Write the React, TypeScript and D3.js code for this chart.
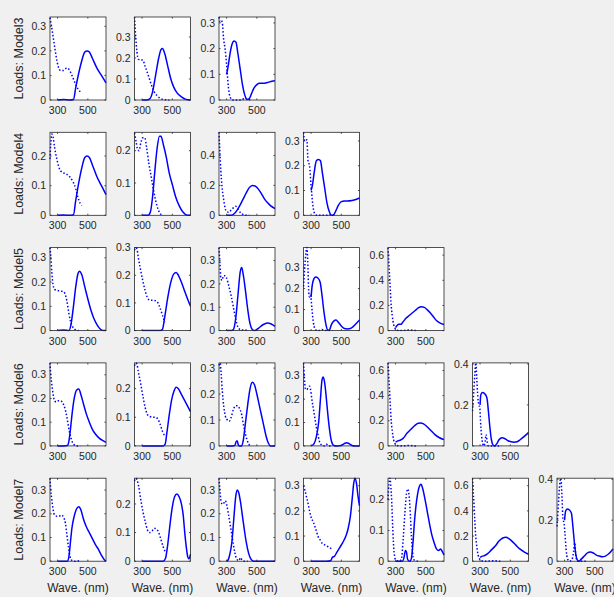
import React from 'react';
import * as d3 from 'd3';

type Pt = [number, number];

const rowLabels = ['Loads: Model3', 'Loads: Model4', 'Loads: Model5', 'Loads: Model6', 'Loads: Model7'];
const xTicks = [300, 500];
const waveRange: [number, number] = [250, 620];
const xLabel = 'Wave. (nm)';

// top of y axis for each panel (axis tight on data)
const yTops = [
  [0.338, 0.395, 0.323],
  [0.28, 0.257, 0.555, 0.335],
  [0.342, 0.3, 0.355, 0.395, 0.66],
  [0.35, 0.29, 0.32, 0.355, 0.66, 0.405],
  [0.35, 0.29, 0.35, 0.33, 0.27, 0.66, 0.405],
];
const yTickSteps = [
  [0.1, 0.1, 0.1],
  [0.1, 0.1, 0.2, 0.1],
  [0.1, 0.1, 0.1, 0.1, 0.2],
  [0.1, 0.1, 0.1, 0.1, 0.2, 0.2],
  [0.1, 0.1, 0.1, 0.1, 0.1, 0.2, 0.2],
];

// emission loadings (solid) and excitation loadings (dotted), [nm, value]
const model3Solid: Pt[][] = [
  [[300,0],[340,0.002],[380,0],[405,0.002],[420,0.05],[440,0.11],[460,0.16],[480,0.195],[495,0.2],[510,0.195],[530,0.17],[560,0.13],[590,0.1],[620,0.07]],
  [[300,0],[330,0],[350,0.005],[370,0.04],[390,0.12],[410,0.2],[425,0.24],[435,0.245],[450,0.22],[470,0.16],[490,0.1],[510,0.06],[530,0.035],[560,0.015],[590,0.003],[620,0]],
  [[300,0.1],[310,0.13],[320,0.17],[335,0.215],[350,0.23],[362,0.225],[375,0.18],[390,0.12],[405,0.06],[420,0.02],[435,0.002],[450,0.005],[465,0.025],[480,0.045],[500,0.06],[520,0.065],[540,0.065],[570,0.068],[600,0.073],[620,0.075]],
];
const model3Dotted: Pt[][] = [
  [[250,0.335],[260,0.3],[275,0.24],[290,0.18],[305,0.135],[320,0.12],[340,0.12],[360,0.13],[375,0.125],[395,0.1],[415,0.07],[435,0.045],[455,0.03]],
  [[250,0.395],[258,0.3],[266,0.23],[275,0.195],[290,0.19],[305,0.19],[320,0.16],[340,0.12],[360,0.075],[380,0.04],[400,0.02],[420,0.008],[445,0.002],[480,0]],
  [[250,0.323],[258,0.305],[265,0.31],[272,0.3],[280,0.24],[290,0.2],[300,0.14],[312,0.05],[325,0.01],[340,0],[400,0],[420,0.008],[440,0.003],[460,0]],
];

const model4Solid: Pt[][] = [
  [[300,0],[340,0.001],[380,0],[405,0.002],[420,0.05],[440,0.11],[460,0.16],[480,0.195],[495,0.2],[510,0.195],[530,0.17],[560,0.13],[590,0.1],[620,0.07]],
  [[300,0],[340,0],[355,0.01],[370,0.06],[385,0.14],[400,0.21],[415,0.245],[425,0.245],[440,0.22],[460,0.18],[480,0.13],[500,0.095],[520,0.06],[545,0.03],[570,0.01],[600,0],[620,0]],
  [[300,0],[330,0],[350,0.01],[370,0.035],[390,0.07],[410,0.11],[430,0.15],[450,0.185],[470,0.2],[490,0.195],[510,0.175],[530,0.145],[550,0.11],[570,0.085],[590,0.065],[620,0.045]],
  [[300,0.1],[310,0.125],[320,0.17],[335,0.22],[350,0.225],[362,0.22],[375,0.17],[390,0.11],[405,0.05],[420,0.015],[435,0],[450,0.003],[465,0.02],[480,0.04],[500,0.055],[520,0.058],[540,0.058],[570,0.06],[600,0.065],[620,0.07]],
];
const model4Dotted: Pt[][] = [
  [[250,0.19],[255,0.24],[262,0.274],[270,0.265],[280,0.23],[295,0.19],[310,0.16],[330,0.145],[355,0.14],[380,0.13],[400,0.115],[420,0.09],[435,0.06],[450,0.04],[460,0.033]],
  [[250,0.255],[260,0.23],[270,0.205],[280,0.2],[292,0.225],[305,0.24],[318,0.24],[330,0.21],[345,0.16],[360,0.12],[375,0.08],[390,0.045],[405,0.02],[420,0.005],[440,0]],
  [[250,0.555],[256,0.42],[262,0.3],[270,0.19],[280,0.11],[290,0.05],[300,0.025],[315,0.02],[330,0.035],[345,0.05],[360,0.06],[375,0.045],[390,0.02],[410,0.005],[430,0],[450,0]],
  [[250,0.335],[258,0.3],[265,0.3],[272,0.305],[280,0.22],[290,0.2],[300,0.12],[312,0.04],[325,0.005],[340,0],[400,0],[420,0.003],[460,0]],
];

const model5Solid: Pt[][] = [
  [[300,0],[340,0.002],[375,0],[390,0.03],[405,0.1],[420,0.18],[435,0.235],[445,0.245],[460,0.23],[480,0.18],[500,0.13],[520,0.085],[540,0.05],[560,0.025],[580,0.008],[600,0],[620,0]],
  [[300,0],[340,0],[380,0],[420,0],[435,0.005],[450,0.05],[470,0.12],[490,0.175],[510,0.205],[525,0.21],[540,0.2],[560,0.175],[580,0.145],[600,0.115],[620,0.088]],
  [[300,0],[330,0],[345,0.005],[360,0.05],[375,0.15],[390,0.25],[400,0.27],[410,0.24],[425,0.17],[440,0.09],[455,0.03],[470,0.005],[485,0],[510,0.01],[540,0.025],[570,0.032],[595,0.028],[620,0.018]],
  [[300,0.16],[305,0.2],[315,0.24],[330,0.255],[345,0.25],[360,0.23],[372,0.17],[385,0.09],[398,0.03],[410,0.003],[420,0.002],[435,0.03],[450,0.045],[465,0.05],[480,0.04],[500,0.022],[520,0.01],[540,0.008],[560,0.01],[580,0.02],[600,0.035],[620,0.05]],
  [[300,0.025],[310,0.04],[320,0.05],[335,0.05],[350,0.07],[370,0.1],[390,0.12],[410,0.14],[430,0.16],[450,0.18],[470,0.19],[490,0.185],[510,0.165],[530,0.14],[550,0.11],[570,0.08],[595,0.06],[620,0.048]],
];
const model5Dotted: Pt[][] = [
  [[250,0.342],[256,0.3],[262,0.24],[270,0.19],[280,0.17],[300,0.165],[320,0.163],[340,0.16],[355,0.14],[365,0.11],[375,0.07],[385,0.04],[400,0.015],[420,0.003],[440,0]],
  [[250,0.29],[258,0.3],[266,0.295],[275,0.265],[290,0.22],[305,0.18],[320,0.145],[335,0.12],[350,0.11],[370,0.11],[390,0.108],[405,0.1],[420,0.08],[435,0.055],[450,0.03]],
  [[250,0.355],[256,0.29],[262,0.225],[270,0.215],[280,0.235],[290,0.235],[300,0.225],[315,0.19],[330,0.15],[345,0.1],[360,0.05],[375,0.015],[395,0.003],[420,0.003],[440,0]],
  [[250,0.21],[258,0.3],[266,0.37],[272,0.395],[278,0.33],[285,0.18],[290,0.16],[297,0.17],[305,0.11],[315,0.04],[325,0.01],[340,0],[360,0],[372,0.005],[390,0],[440,0]],
  [[250,0.66],[255,0.55],[260,0.45],[265,0.33],[270,0.22],[278,0.12],[287,0.05],[298,0.015],[310,0.003],[330,0],[400,0.005],[420,0],[440,0]],
];

const model6Solid: Pt[][] = [
  [[300,0],[340,0],[365,0.002],[375,0.02],[385,0.07],[395,0.13],[410,0.2],[425,0.235],[440,0.24],[455,0.215],[470,0.18],[490,0.135],[510,0.1],[530,0.07],[550,0.05],[575,0.033],[600,0.022],[620,0.015]],
  [[300,0],[350,0],[400,0],[440,0],[452,0.005],[465,0.05],[480,0.11],[495,0.16],[510,0.19],[525,0.205],[540,0.2],[560,0.18],[580,0.16],[600,0.14],[620,0.12]],
  [[300,0],[340,0],[355,0.002],[362,0.015],[370,0.02],[377,0.005],[385,0],[400,0],[410,0.02],[425,0.09],[440,0.16],[455,0.22],[470,0.245],[485,0.235],[500,0.2],[515,0.16],[530,0.12],[545,0.08],[560,0.04],[575,0.012],[590,0],[620,0]],
  [[300,0],[320,0.01],[335,0.04],[350,0.1],[362,0.2],[372,0.28],[380,0.295],[390,0.27],[400,0.21],[410,0.14],[422,0.07],[435,0.02],[450,0.002],[470,0],[500,0.002],[520,0.01],[535,0.014],[550,0.01],[570,0.002],[590,0],[620,0]],
  [[300,0.03],[315,0.04],[330,0.045],[350,0.06],[375,0.1],[400,0.13],[425,0.16],[450,0.18],[465,0.182],[485,0.175],[510,0.15],[535,0.12],[560,0.09],[590,0.065],[620,0.05]],
  [[300,0.2],[305,0.25],[315,0.26],[330,0.255],[345,0.235],[355,0.17],[365,0.09],[375,0.03],[385,0.005],[395,0],[410,0.01],[425,0.03],[445,0.04],[465,0.035],[485,0.025],[505,0.02],[525,0.018],[545,0.02],[565,0.03],[590,0.045],[620,0.065]],
];
const model6Dotted: Pt[][] = [
  [[250,0.35],[255,0.3],[262,0.26],[270,0.22],[280,0.19],[292,0.185],[305,0.19],[320,0.19],[335,0.18],[350,0.155],[362,0.12],[375,0.07],[390,0.03],[405,0.008],[425,0],[450,0]],
  [[250,0.28],[258,0.29],[266,0.285],[275,0.26],[290,0.22],[305,0.175],[320,0.135],[335,0.11],[350,0.103],[370,0.1],[390,0.1],[405,0.093],[420,0.075],[435,0.05],[450,0.035]],
  [[250,0.31],[258,0.32],[264,0.28],[272,0.21],[282,0.15],[292,0.115],[305,0.1],[318,0.095],[330,0.11],[345,0.14],[360,0.155],[372,0.155],[385,0.145],[400,0.12],[412,0.08],[425,0.045],[440,0.015],[455,0]],
  [[250,0.355],[255,0.3],[262,0.245],[272,0.24],[280,0.25],[290,0.255],[297,0.24],[305,0.2],[315,0.16],[325,0.12],[335,0.08],[345,0.05],[355,0.02],[370,0.004],[385,0],[400,0.008],[415,0],[440,0]],
  [[250,0.66],[255,0.55],[260,0.45],[265,0.33],[270,0.22],[278,0.12],[287,0.05],[298,0.015],[310,0.003],[330,0],[400,0.004],[420,0],[440,0]],
  [[250,0.17],[258,0.26],[265,0.35],[272,0.405],[278,0.33],[285,0.24],[292,0.2],[298,0.19],[303,0.12],[310,0.05],[318,0.01],[325,0],[333,0.02],[340,0.055],[347,0.02],[355,0],[380,0],[440,0]],
];

const model7Solid: Pt[][] = [
  [[300,0],[340,0],[365,0],[375,0.02],[385,0.08],[395,0.14],[410,0.19],[425,0.22],[440,0.23],[455,0.215],[470,0.18],[490,0.145],[510,0.12],[530,0.095],[550,0.07],[570,0.05],[590,0.025],[610,0.005],[620,0]],
  [[300,0],[400,0],[440,0],[455,0.01],[470,0.06],[485,0.13],[500,0.19],[515,0.225],[530,0.235],[545,0.225],[560,0.2],[572,0.16],[582,0.1],[592,0.05],[602,0.015],[610,0.008],[620,0.025]],
  [[300,0],[310,0.005],[320,0.025],[335,0.08],[348,0.18],[360,0.27],[370,0.3],[380,0.29],[392,0.25],[405,0.19],[418,0.13],[430,0.08],[445,0.035],[460,0.01],[480,0],[620,0]],
  [[300,0],[400,0],[430,0.002],[440,0.015],[455,0.02],[470,0.035],[490,0.055],[510,0.075],[530,0.1],[545,0.13],[560,0.18],[572,0.25],[582,0.31],[590,0.33],[600,0.31],[610,0.26],[620,0.22]],
  [[300,0],[345,0],[355,0.01],[365,0.035],[372,0.03],[380,0.005],[395,0],[405,0.01],[415,0.06],[425,0.13],[440,0.2],[455,0.24],[468,0.25],[480,0.235],[495,0.2],[510,0.16],[525,0.12],[540,0.085],[555,0.06],[570,0.04],[585,0.035],[597,0.04],[610,0.03],[620,0.02]],
  [[300,0.03],[315,0.04],[330,0.045],[350,0.06],[375,0.09],[400,0.12],[425,0.16],[450,0.185],[470,0.19],[490,0.18],[510,0.16],[535,0.13],[560,0.1],[590,0.075],[620,0.055]],
  [[300,0.2],[307,0.245],[318,0.255],[332,0.25],[345,0.235],[355,0.17],[365,0.09],[375,0.03],[385,0.005],[395,0],[410,0.01],[430,0.025],[450,0.04],[470,0.045],[490,0.04],[510,0.03],[530,0.025],[550,0.022],[570,0.025],[590,0.035],[620,0.06]],
];
const model7Dotted: Pt[][] = [
  [[250,0.35],[255,0.3],[262,0.26],[270,0.22],[280,0.195],[295,0.19],[310,0.19],[325,0.195],[340,0.185],[352,0.16],[362,0.11],[372,0.06],[382,0.02],[395,0.003],[410,0],[450,0.003]],
  [[250,0.28],[258,0.29],[266,0.285],[278,0.26],[290,0.22],[305,0.175],[320,0.14],[335,0.11],[350,0.1],[365,0.105],[380,0.115],[395,0.112],[410,0.1],[425,0.075],[440,0.05],[455,0.03]],
  [[250,0.35],[256,0.3],[263,0.255],[272,0.24],[282,0.245],[292,0.255],[300,0.24],[312,0.2],[325,0.15],[335,0.11],[345,0.07],[355,0.035],[365,0.012],[380,0.002],[392,0.015],[402,0.005],[420,0],[440,0]],
  [[250,0.3],[260,0.28],[270,0.255],[280,0.23],[290,0.2],[300,0.175],[315,0.155],[330,0.13],[345,0.1],[360,0.085],[375,0.07],[390,0.065],[405,0.06],[420,0.055],[440,0.048]],
  [[250,0.2],[256,0.25],[262,0.27],[268,0.25],[275,0.19],[282,0.1],[290,0.03],[300,0.005],[320,0],[338,0.005],[350,0.07],[362,0.16],[372,0.22],[380,0.235],[390,0.21],[398,0.15],[405,0.08],[412,0.03],[420,0.005],[450,0]],
  [[250,0.66],[255,0.55],[260,0.45],[265,0.33],[270,0.22],[278,0.12],[287,0.05],[298,0.015],[310,0.003],[330,0],[400,0.004],[420,0],[440,0]],
  [[250,0.17],[258,0.26],[266,0.36],[275,0.405],[282,0.33],[290,0.2],[296,0.19],[302,0.14],[310,0.06],[320,0.01],[335,0],[350,0.01],[360,0.05],[367,0.09],[374,0.03],[385,0],[440,0]],
];

const solidRows = [model3Solid, model4Solid, model5Solid, model6Solid, model7Solid];
const dottedRows = [model3Dotted, model4Dotted, model5Dotted, model6Dotted, model7Dotted];

const W = 614;
const H = 597;
const left0 = 50;
const colStep = 84.5;
const top0 = 17;
const rowStep = 115.3;
const pw = 56;
const ph = 83;
const ink = '#262626';
const blue = '#0000ff';

function Panel({ r, c }: { r: number; c: number }) {
  const x0 = left0 + c * colStep;
  const y0 = top0 + r * rowStep;
  const yTop = yTops[r][c];
  const step = yTickSteps[r][c];
  const x = d3.scaleLinear().domain(waveRange).range([0, pw]);
  const y = d3.scaleLinear().domain([0, yTop]).range([ph, 0]);
  const yTicks = d3.range(0, yTop + 1e-9, step).map(v => +v.toFixed(2));
  const line = d3.line<Pt>().x(d => x(d[0])).y(d => y(d[1])).curve(d3.curveMonotoneX);
  const clipId = `clip-${r}-${c}`;
  const isBottom = r === rowLabels.length - 1;
  return (
    <g transform={`translate(${x0},${y0})`}>
      <defs>
        <clipPath id={clipId}>
          <rect x={-1} y={-1} width={pw + 2} height={ph + 2} />
        </clipPath>
      </defs>
      <rect width={pw} height={ph} fill="#fff" />
      <g clipPath={`url(#${clipId})`}>
        <path d={line(dottedRows[r][c]) || ''} fill="none" stroke={blue} strokeWidth={1.5} strokeDasharray="1.5 2" />
        <path d={line(solidRows[r][c]) || ''} fill="none" stroke={blue} strokeWidth={1.5} strokeLinejoin="round" />
      </g>
      <rect width={pw} height={ph} fill="none" stroke={ink} strokeWidth={0.8} />
      {yTicks.map(t => (
        <g key={t}>
          <line x1={0} x2={1.6} y1={y(t)} y2={y(t)} stroke={ink} strokeWidth={0.8} />
          <line x1={pw} x2={pw - 1.6} y1={y(t)} y2={y(t)} stroke={ink} strokeWidth={0.8} />
          <text x={-4} y={y(t)} dy="0.35em" textAnchor="end" fontSize={10.5} fill={ink}>{t === 0 ? '0' : String(t)}</text>
        </g>
      ))}
      {xTicks.map(t => (
        <g key={t}>
          <line x1={x(t)} x2={x(t)} y1={ph} y2={ph - 1.6} stroke={ink} strokeWidth={0.8} />
          <line x1={x(t)} x2={x(t)} y1={0} y2={1.6} stroke={ink} strokeWidth={0.8} />
          <text x={x(t)} y={ph + 14} textAnchor="middle" fontSize={10.5} fill={ink}>{t}</text>
        </g>
      ))}
      {isBottom && (
        <text x={pw / 2} y={ph + 31} textAnchor="middle" fontSize={12} fill={ink}>{xLabel}</text>
      )}
    </g>
  );
}

export default function App() {
  return (
    <svg width={W} height={H} style={{ position: 'absolute', left: 0, top: 0 }}
      fontFamily="'Liberation Sans', Arial, sans-serif">
      <rect width={W} height={H} fill="#f0f0f0" />
      {rowLabels.map((label, r) => (
        <g key={label}>
          <text transform={`translate(${23},${top0 + r * rowStep + ph / 2}) rotate(-90)`}
            textAnchor="middle" fontSize={12.5} fill={ink}>{label}</text>
          {solidRows[r].map((_, c) => <Panel key={c} r={r} c={c} />)}
        </g>
      ))}
    </svg>
  );
}
